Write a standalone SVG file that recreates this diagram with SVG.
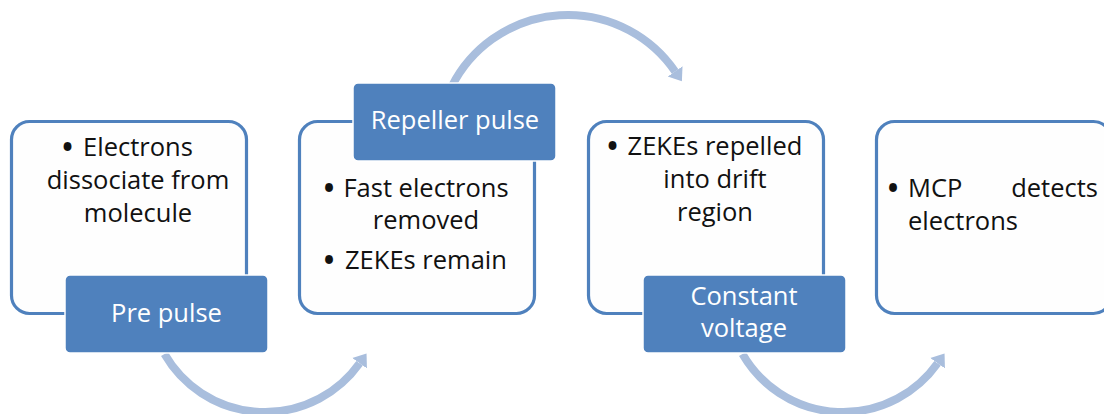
<svg xmlns="http://www.w3.org/2000/svg" width="1104" height="414" viewBox="0 0 1104 414">
<style>
.box{fill:#fefefe;stroke:#4f81bd;stroke-width:3.2}
.lab{fill:#4f81bd;stroke:#ffffff;stroke-width:1.5}
.arc{fill:none;stroke:#a9bedd;stroke-width:8}
text{font-family:"Open Sans","Liberation Sans",sans-serif;font-size:25.5px}
.t{fill:#111111}
.b{fill:#111111;text-anchor:middle;font-size:28px;font-weight:bold}
.w{fill:#ffffff;text-anchor:middle}
.m{text-anchor:middle}
</style>
<defs>
<marker id="ah" markerUnits="userSpaceOnUse" markerWidth="16" markerHeight="20" refX="0" refY="9" orient="auto" viewBox="0 0 16 18">
<path d="M0 0 L12 9 L0 18 Z" fill="#a9bedd"/>
</marker>
</defs>
<g id="connectors">
<path class="arc" d="M164.5 354 A116 116 0 0 0 359.6 363.2" marker-end="url(#ah)"/>
<path class="arc" d="M452 86 A130 130 0 0 1 675.1 71.4" marker-end="url(#ah)"/>
<path class="arc" d="M742.5 354 A116 116 0 0 0 937.6 363.2" marker-end="url(#ah)"/>
</g>
<g id="node1">
<rect class="box" x="11.5" y="121.5" width="235" height="192" rx="18"/>
<text class="b" x="67.5" y="157">•</text>
<text class="t m" x="138" y="156">Electrons</text>
<text class="t m" x="138" y="189">dissociate from</text>
<text class="t m" x="138" y="222">molecule</text>
</g>
<g id="label1">
<rect class="lab" x="65" y="275" width="203" height="78" rx="5"/>
<text class="w" x="166.5" y="322">Pre pulse</text>
</g>
<g id="node2">
<rect class="box" x="299.5" y="121.5" width="235" height="192" rx="18"/>
<text class="b" x="329" y="198">•</text>
<text class="t m" x="426" y="197">Fast electrons</text>
<text class="t m" x="426" y="229">removed</text>
<text class="b" x="329" y="270">•</text>
<text class="t m" x="426" y="269">ZEKEs remain</text>
</g>
<g id="label2">
<rect class="lab" x="353" y="83" width="203" height="78" rx="5"/>
<text class="w" x="455" y="129">Repeller pulse</text>
</g>
<g id="node3">
<rect class="box" x="588.5" y="121.5" width="235" height="192" rx="18"/>
<text class="b" x="612.5" y="156">•</text>
<text class="t m" x="715" y="155">ZEKEs repelled</text>
<text class="t m" x="715" y="188">into drift</text>
<text class="t m" x="715" y="221">region</text>
</g>
<g id="label3">
<rect class="lab" x="643" y="275" width="203" height="78" rx="5"/>
<text class="w" x="744" y="305">Constant</text>
<text class="w" x="744" y="337">voltage</text>
</g>
<g id="node4">
<rect class="box" x="876.5" y="121.5" width="235" height="192" rx="18"/>
<text class="b" x="893" y="198">•</text>
<text class="t" x="908" y="197">MCP</text>
<text class="t" x="1098" y="197" text-anchor="end">detects</text>
<text class="t" x="908" y="230">electrons</text>
</g>
</svg>
